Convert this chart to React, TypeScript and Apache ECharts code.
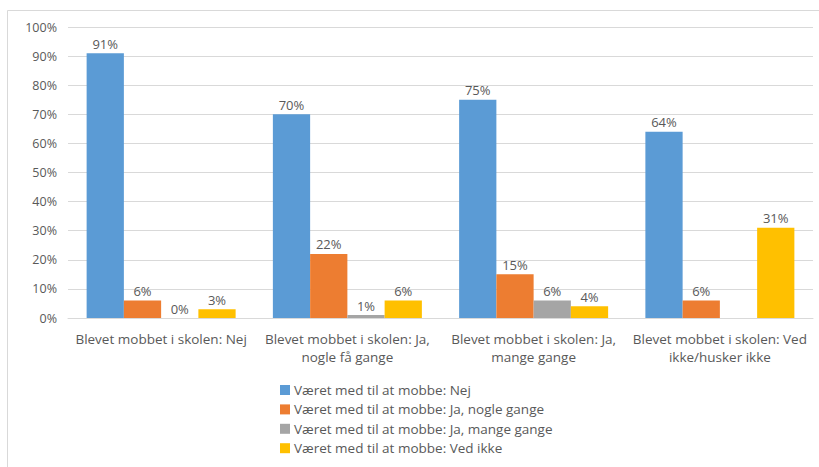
import React, { useEffect, useRef } from "react";
import * as echarts from "echarts";

const categories = [
  "Blevet mobbet i skolen: Nej",
  "Blevet mobbet i skolen: Ja,\nnogle få gange",
  "Blevet mobbet i skolen: Ja,\nmange gange",
  "Blevet mobbet i skolen: Ved\nikke/husker ikke",
];
const seriesNames = [
  "Været med til at mobbe: Nej",
  "Været med til at mobbe: Ja, nogle gange",
  "Været med til at mobbe: Ja, mange gange",
  "Været med til at mobbe: Ved ikke",
];
const nej = [91, 70, 75, 64];
const jaNogle = [6, 22, 15, 6];
const jaMange = [0, 1, 6, null];
const vedIkke = [3, 6, 4, 31];
const yTicks = [0, 10, 20, 30, 40, 50, 60, 70, 80, 90, 100];

const colors = ["#5B9BD5", "#ED7D31", "#A5A5A5", "#FFC000"];
const FONT = "Open Sans";
const TEXT = "#595959";

export default function App() {
  const ref = useRef<HTMLDivElement>(null);
  useEffect(() => {
    if (!ref.current) return;
    const chart = echarts.init(ref.current, undefined, { renderer: "svg" });
    const values = [nej, jaNogle, jaMange, vedIkke];
    chart.setOption({
      animation: false,
      color: colors,
      textStyle: { fontFamily: FONT },
      grid: { left: 68, right: 6, top: 27, bottom: 149, containLabel: false },
      graphic: [
        { type: "line", shape: { x1: 7.5, y1: 10.5, x2: 819, y2: 10.5 }, style: { stroke: "#D9D9D9", lineWidth: 1 } },
        { type: "line", shape: { x1: 7.5, y1: 10.5, x2: 7.5, y2: 467 }, style: { stroke: "#D9D9D9", lineWidth: 1 } },
      ],
      legend: {
        orient: "vertical",
        left: 280,
        top: 382,
        height: 90,
        itemWidth: 10,
        itemHeight: 10,
        itemGap: 3.4,
        icon: "rect",
        padding: 0,
        textStyle: { fontFamily: FONT, fontSize: 13.5, color: TEXT, lineHeight: 16, padding: [0, 0, 0, -1] },
        data: seriesNames,
      },
      xAxis: {
        type: "category",
        data: categories,
        axisLine: { lineStyle: { color: "#D9D9D9" } },
        axisTick: { show: false },
        axisLabel: { color: TEXT, fontFamily: FONT, fontSize: 13.5, margin: 12, lineHeight: 18, interval: 0 },
      },
      yAxis: {
        type: "value",
        min: yTicks[0],
        max: yTicks[yTicks.length - 1],
        interval: 10,
        axisLine: { show: false },
        axisTick: { show: false },
        splitLine: { lineStyle: { color: "#D9D9D9" } },
        axisLabel: { color: TEXT, fontFamily: FONT, fontSize: 12.5, margin: 11, formatter: "{value}%" },
      },
      series: seriesNames.map((name, i) => ({
        name,
        type: "bar",
        data: values[i],
        barGap: "0%",
        barCategoryGap: "20%",
        label: {
          show: true,
          position: "top",
          distance: 3,
          color: TEXT,
          fontFamily: FONT,
          fontSize: 13,
          formatter: "{c}%",
        },
      })),
    });
    return () => chart.dispose();
  }, []);
  return (
    <div
      ref={ref}
      style={{ position: "absolute", left: 0, top: 0, width: 819, height: 467, background: "#fff" }}
    />
  );
}
